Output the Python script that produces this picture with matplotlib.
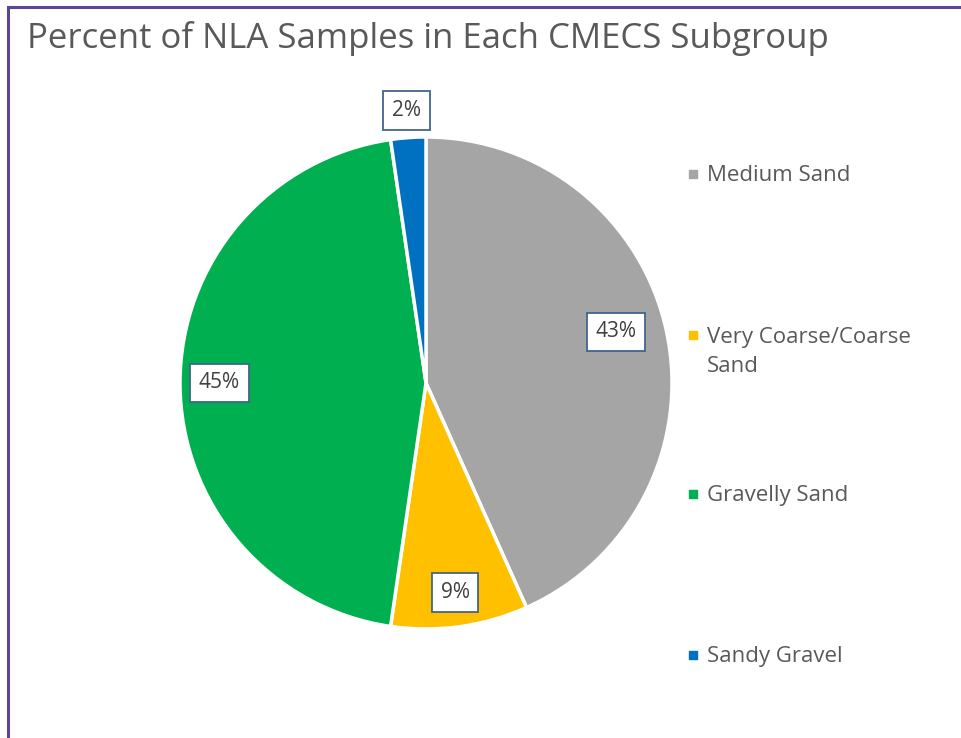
import numpy as np
import matplotlib
matplotlib.use("Agg")
import matplotlib.pyplot as plt
from matplotlib.patches import Rectangle

# data
categories = ["Medium Sand", "Very Coarse/Coarse\nSand", "Gravelly Sand", "Sandy Gravel"]
values = [43.3, 9.0, 45.4, 2.3]
colors = ["#A5A5A5", "#FFC000", "#00B050", "#0070C0"]
labelRadius = [0.80, 0.86, 0.84, 1.11]
labelShift = [3, 0, 0, 0]  # degrees, best-fit nudges like Excel

W, H = 962, 738
fig = plt.figure(figsize=(W / 100, H / 100), dpi=100)
plt.rcParams['font.family'] = ['Open Sans', 'DejaVu Sans']

# outer purple frame (only left and top show in the crop)
fig.add_artist(Rectangle((8 / W, -0.1), 1.2, (H - 7) / H + 0.1, transform=fig.transFigure,
                         fill=False, edgecolor="#5B4596", linewidth=2.2))

# title
fig.text(27 / W, 1 - 38 / H, "Percent of NLA Samples in Each CMECS Subgroup",
         fontsize=25, color="#595959", va="center", ha="left")

# pie
cx, cy, r = 426, 383, 246
ax = fig.add_axes([(cx - r) / W, (H - cy - r) / H, 2 * r / W, 2 * r / H])
wedges, _ = ax.pie(values, colors=colors, startangle=90, counterclock=False,
                   wedgeprops=dict(edgecolor="white", linewidth=2.5))
ax.set_xlim(-1, 1)
ax.set_ylim(-1, 1)
ax.set_aspect("equal")
ax.axis("off")

total = sum(values)
for w, v, rr, sh in zip(wedges, values, labelRadius, labelShift):
    mid = np.deg2rad((w.theta1 + w.theta2) / 2 + sh)
    ax.text(rr * np.cos(mid), rr * np.sin(mid), "%.0f%%" % (100 * v / total),
            ha="center", va="center", fontsize=15, color="#404040",
            bbox=dict(boxstyle="square,pad=0.42", facecolor="white", edgecolor="#41648C", linewidth=1.3))

# legend, drawn by hand to match the spread-out layout
lax = fig.add_axes([0, 0, 1, 1])
lax.set_xlim(0, W)
lax.set_ylim(H, 0)
lax.axis("off")
legendY = [174, 335, 494, 655]
lineGap = 30
for name, c, y in zip(categories, colors, legendY):
    lax.scatter([693], [y], marker="s", s=33, color=c)
    # baseline of a multi-line text is the last line's, so push it down
    nExtra = name.count("\n")
    lax.text(707, y + 7 + nExtra * lineGap, name, fontsize=16, color="#595959",
             va="baseline", ha="left", linespacing=1.5)

fig.savefig("out.png", dpi=100)
